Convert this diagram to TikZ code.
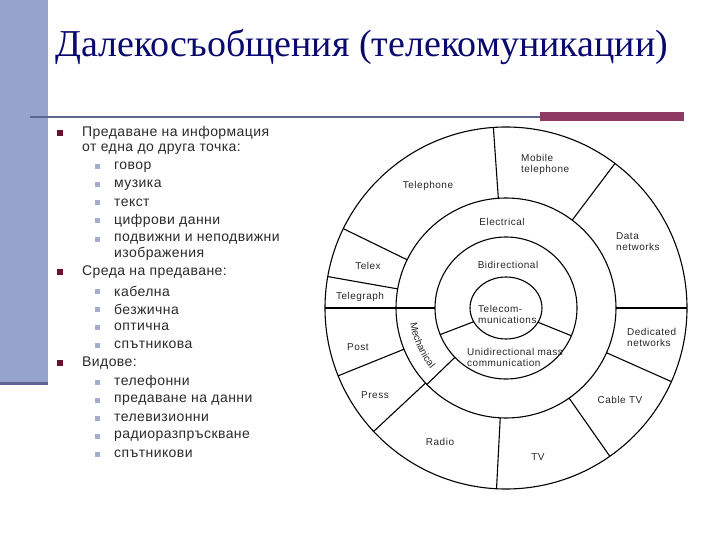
\documentclass[tikz,border=0pt]{standalone}
\usepackage{fontspec}
\usetikzlibrary{calc,decorations.text}
\setmainfont{Liberation Sans}
\newfontfamily\titlefont{Liberation Serif}
\newfontfamily\spacedfont[LetterSpace=3]{Liberation Sans}
\newfontfamily\labfont[LetterSpace=5]{Liberation Sans}
\definecolor{barblue}{HTML}{96A3CC}
\definecolor{bardark}{HTML}{5E6790}
\definecolor{maroon}{HTML}{8E3A63}
\definecolor{bulmain}{HTML}{6B1030}
\definecolor{bulsub}{HTML}{A5ADCF}
\definecolor{navy}{HTML}{0A0A6E}
\definecolor{txt}{HTML}{2A2A2A}
\begin{document}
\begin{tikzpicture}[x=1pt,y=1pt,
  lab/.style={font=\labfont\fontsize{10}{11}\selectfont, text=black!85, inner sep=0pt, align=center},
  labl/.style={lab, align=left},
  item/.style={anchor=west, inner sep=0pt, font=\spacedfont\fontsize{14}{16}\selectfont, text=txt, align=left},
  mb/.style={fill=bulmain, minimum size=6.5pt, inner sep=0pt},
  sb/.style={fill=bulsub, minimum size=5pt, inner sep=0pt},
  ring/.style={line width=1.1pt}]
\useasboundingbox (0,0) rectangle (720,-540);
\fill[barblue] (0,0) rectangle (48,-382);
\fill[bardark] (0,-382) rectangle (48,-385);
\draw[bardark, line width=1.5pt] (30,-117) -- (560,-117);
\fill[maroon] (540,-112) rectangle (684,-121);
\node[anchor=west, inner sep=0pt, text=navy, font=\titlefont\fontsize{38}{40}\selectfont] (title) at (55,-47) {Далекосъобщения (телекомуникации)};

% left list
\foreach \y in {133,272,363}
  \node[mb] at (60,-\y) {};
\node[item] (a1) at (82,-133) {Предаване на информация};
\node[item] (a2) at (82,-149) {от една до друга точка:};
\foreach \y/\t in {167/говор,185/музика,203/текст,221/цифрови данни,239/подвижни и неподвижни,291/кабелна,309/безжична,327/оптична,345/спътникова,382/телефонни,400/предаване на данни,418/телевизионни,436/радиоразпръскване,454/спътникови}{
  \node[sb] at (97,-\y) {};
  \node[item] at (114,-\y) {\t};
}
\node[item] (a3) at (114,-254) {изображения};
\node[item] (b1) at (82,-272) {Среда на предаване:};
\node[item] (c1) at (82,-363) {Видове:};

% circle diagram
\coordinate (C) at (506,-308);
\draw[ring] (C) circle (181);
\draw[ring] (C) circle (110);
\draw[ring] (C) circle (71);
\draw[ring] (C) ellipse (36 and 31);
\foreach \a in {94,53,0,-24,-55,-93,-137,-158,170,154}
  \draw[ring] ($(C)+(\a:110)$) -- ($(C)+(\a:181)$);
\draw[line width=1.6pt] ($(C)+(180:71)$) -- ($(C)+(180:181)$);
\draw[ring] ($(C)+(-136:71)$) -- ($(C)+(-136:110)$);
\draw[ring] ($(C)+(-157:35)$) -- ($(C)+(-158:71)$);
\draw[ring] ($(C)+(-24:35)$) -- ($(C)+(-23:71)$);

\node[lab] (tel) at (428,-186) {Telephone};
\node[labl, anchor=west] (mob) at (521,-164) {Mobile\\telephone};
\node[labl, anchor=west] (data) at (616,-242) {Data\\networks};
\node[labl, anchor=west] (ded) at (627,-337) {Dedicated\\networks};
\node[lab] (cab) at (620,-400) {Cable TV};
\node[lab] (tv) at (538,-457) {TV};
\node[lab] (rad) at (440,-442) {Radio};
\node[lab] (pre) at (375,-395) {Press};
\node[lab] (pos) at (358,-347) {Post};
\node[lab] (tgr) at (360,-297) {Telegraph};
\node[lab] (tlx) at (368,-266) {Telex};
\node[lab] (ele) at (502,-222) {Electrical};
\node[lab] (bid) at (508,-265) {Bidirectional};
\node[labl, anchor=west] (tc) at (478,-314) {Telecom-\\munications};
\node[labl, anchor=west] (uni) at (467,-357) {Unidirectional mass\\communication};
\path[decorate, decoration={text along path, text align=center,
  text={|\fontsize{10}{11}\selectfont\color{black!85}|Mechanical}}]
  ($(C)+(182:97)$) arc[start angle=182, end angle=226, radius=97];
\end{tikzpicture}
\end{document}
